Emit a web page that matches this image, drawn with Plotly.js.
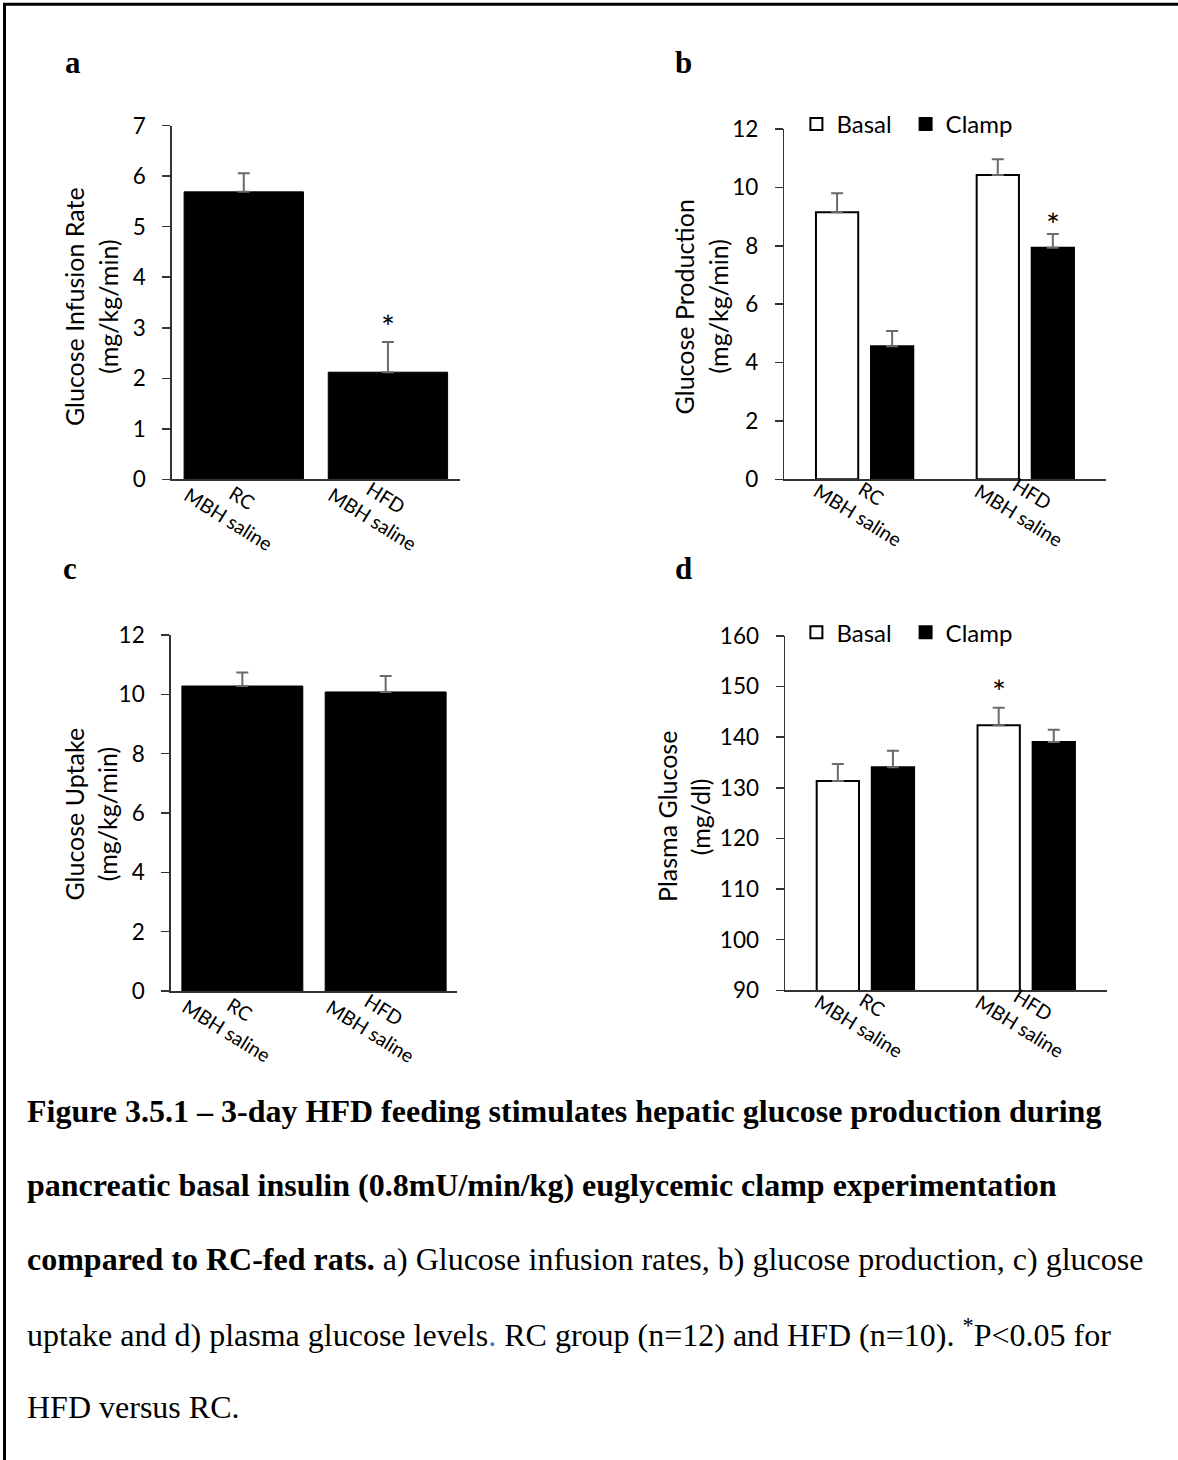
<!DOCTYPE html>
<html><head><meta charset="utf-8">
<script src="https://cdn.plot.ly/plotly-3.0.1.min.js"></script>
<style>html,body{margin:0;padding:0;background:#fff}#chart{width:1178px;height:1460px}</style>
</head><body><div id="chart"></div>
<script>
// ---------- data ----------
const groups = ['RC', 'HFD'];
const groupSub = 'MBH saline';
const seriesNames = ['Basal', 'Clamp'];
// a) glucose infusion rate (mg/kg/min)
const girMean = [5.69, 2.12];
const girErr = [0.37, 0.60];
// b) glucose production (mg/kg/min)
const egpBasal = [9.15, 10.42];
const egpBasalErr = [0.65, 0.54];
const egpClamp = [4.56, 7.93];
const egpClampErr = [0.52, 0.47];
// c) glucose uptake (mg/kg/min)
const uptakeMean = [10.28, 10.08];
const uptakeErr = [0.46, 0.54];
// d) plasma glucose (mg/dl)
const pgBasal = [131.35, 142.35];
const pgBasalErr = [3.35, 3.48];
const pgClamp = [134.05, 139.05];
const pgClampErr = [3.28, 2.45];
// axis titles and ticks
const titleA = ['Glucose Infusion Rate', '(mg/kg/min)'];
const titleB = ['Glucose Production', '(mg/kg/min)'];
const titleC = ['Glucose Uptake', '(mg/kg/min)'];
const titleD = ['Plasma Glucose', '(mg/dl)'];
const panelLetters = ['a', 'b', 'c', 'd'];
const captionLines = [
  '<b>Figure 3.5.1 \u2013 3-day HFD feeding stimulates hepatic glucose production during</b>',
  '<b>pancreatic basal insulin (0.8mU/min/kg) euglycemic clamp experimentation</b>',
  '<b>compared to RC-fed rats.</b> a) Glucose infusion rates, b) glucose production, c) glucose',
  'uptake and d) plasma glucose levels<span style="color:#4472c4">.</span> RC group (n=12) and HFD (n=10). <sup>*</sup>P&lt;0.05 for',
  'HFD versus RC.'
];

// ---------- layout helpers ----------
const W = 1178, H = 1460;
const px = v => v / W;
const py = v => 1 - v / H;
const SANS = 'Lato, "Open Sans", sans-serif';
const SERIF = '"Liberation Serif", "Times New Roman", serif';
const AX = '#333333';
const ERRC = '#6a6a6a';

function err(arr) {
  return {type: 'data', symmetric: false, array: arr, arrayminus: arr.map(() => 0),
          color: ERRC, thickness: 2, width: 6};
}
const singleW_a = 0.828, singleW_c = 0.844;
const grpW = 0.263, basalOff = -0.303, clampOff = 0.0395;

const traces = [
  {type: 'bar', x: groups, y: girMean, error_y: err(girErr), xaxis: 'x', yaxis: 'y',
   width: singleW_a, marker: {color: '#000', line: {color: '#000', width: 1}}, showlegend: false},
  {type: 'bar', name: seriesNames[0], x: groups, y: egpBasal, error_y: err(egpBasalErr), xaxis: 'x2', yaxis: 'y2',
   width: grpW, offset: basalOff, marker: {color: '#fff', line: {color: '#000', width: 2}}, legend: 'legend'},
  {type: 'bar', name: seriesNames[1], x: groups, y: egpClamp, error_y: err(egpClampErr), xaxis: 'x2', yaxis: 'y2',
   width: grpW, offset: clampOff, marker: {color: '#000', line: {color: '#000', width: 2}}, legend: 'legend'},
  {type: 'bar', x: groups, y: uptakeMean, error_y: err(uptakeErr), xaxis: 'x3', yaxis: 'y3',
   width: singleW_c, marker: {color: '#000', line: {color: '#000', width: 1}}, showlegend: false},
  {type: 'bar', name: seriesNames[0], x: groups, y: pgBasal, error_y: err(pgBasalErr), xaxis: 'x4', yaxis: 'y4',
   width: grpW, offset: basalOff, marker: {color: '#fff', line: {color: '#000', width: 2}}, legend: 'legend2'},
  {type: 'bar', name: seriesNames[1], x: groups, y: pgClamp, error_y: err(pgClampErr), xaxis: 'x4', yaxis: 'y4',
   width: grpW, offset: clampOff, marker: {color: '#000', line: {color: '#000', width: 2}}, legend: 'legend2'}
];

function xAx(x0, x1, anchor) {
  return {domain: [px(x0), px(x1)], anchor: anchor, type: 'category', range: [-0.5, 1.5],
          showline: true, linecolor: AX, linewidth: 1.5, ticks: '', showticklabels: false,
          showgrid: false, zeroline: false, fixedrange: true};
}
function yAx(y0, y1, anchor, range, dtick) {
  return {domain: [py(y1), py(y0)], anchor: anchor, range: range, dtick: dtick, tick0: range[0],
          showline: true, linecolor: AX, linewidth: 1.5, ticks: 'outside', ticklen: 8, tickwidth: 1.5,
          tickcolor: AX, showgrid: false, zeroline: false, fixedrange: true,
          tickfont: {family: SANS, size: 22.5, color: '#000'}, ticklabelstandoff: 12};
}

const annotations = [];
// panel letters
const letterPos = [[72.7, 62.8], [683.3, 62.8], [70, 568.5], [683.3, 568.5]];
panelLetters.forEach((l, i) => annotations.push({xref: 'paper', yref: 'paper', x: px(letterPos[i][0]), y: py(letterPos[i][1]),
  xanchor: 'center', yanchor: 'middle', showarrow: false, text: '<b>' + l + '</b>', font: {family: SERIF, size: 31, color: '#000'}}));
// y-axis titles (two lines each)
function yTitle(lines, xs, yc) {
  lines.forEach((t, i) => annotations.push({xref: 'paper', yref: 'paper', x: px(xs[i]), y: py(yc),
    xanchor: 'center', yanchor: 'middle', textangle: -90, showarrow: false, text: t,
    font: {family: SANS, size: 25, color: '#000'}}));
}
yTitle(titleA, [73.6, 107.3], 306.5);
yTitle(titleB, [683.6, 717.6], 306.8);
yTitle(titleC, [73.6, 107.3], 814);
yTitle(titleD, [667, 700.3], 817);
// category labels
function catLabels(xa, ya, ymin, dx, dy) {
  groups.forEach((g, i) => annotations.push({xref: xa, yref: ya, x: i, y: ymin, xshift: dx, yshift: -dy,
    xanchor: 'center', yanchor: 'middle', textangle: 32, showarrow: false, text: g + '<br>' + groupSub,
    font: {family: SANS, size: 19.5, color: '#000'}}));
}
catLabels('x', 'y', 0, -8.5, 28.5);
catLabels('x2', 'y2', 0, 0, 25);
catLabels('x3', 'y3', 0, -8.5, 28.5);
catLabels('x4', 'y4', 90, 0, 25);
// significance asterisks (HFD vs RC)
function star(xa, ya, x, y, shift) {
  annotations.push({xref: xa, yref: ya, x: x, y: y, yshift: shift, xanchor: 'center', yanchor: 'middle',
    showarrow: false, text: '*', font: {family: SANS, size: 33, color: '#000'}});
}
star('x', 'y', 1, girMean[1] + girErr[1], 16);
star('x2', 'y2', 1 + clampOff + grpW / 2, egpClamp[1] + egpClampErr[1], 10);
star('x4', 'y4', 1 + basalOff + grpW / 2, pgBasal[1] + pgBasalErr[1], 17);
// caption
const capBase = 1121.7, capStep = 74, capFs = 32;
captionLines.forEach((t, i) => annotations.push({xref: 'paper', yref: 'paper', x: px(25), y: py(capBase + i * capStep - 0.3375 * capFs),
  xanchor: 'left', yanchor: 'middle', align: 'left', showarrow: false, text: t, font: {family: SERIF, size: capFs, color: '#000'}}));

const legendCommon = {orientation: 'h', xanchor: 'left', yanchor: 'middle', bgcolor: 'rgba(0,0,0,0)', borderwidth: 0,
  font: {family: SANS, size: 24, color: '#000'}, entrywidth: 64.2, entrywidthmode: 'pixels', itemwidth: 30, tracegroupgap: 0};

const layout = {
  width: W, height: H, margin: {l: 0, r: 0, t: 0, b: 0, pad: 0},
  paper_bgcolor: '#fff', plot_bgcolor: 'rgba(0,0,0,0)', barmode: 'group',
  font: {family: SANS, color: '#000'},
  xaxis: xAx(171.7, 460, 'y'), yaxis: yAx(125.7, 479.3, 'x', [0, 7], 1),
  xaxis2: xAx(784.3, 1105.7, 'y2'), yaxis2: yAx(129, 479.3, 'x2', [0, 12], 2),
  xaxis3: xAx(170.7, 457.3, 'y3'), yaxis3: yAx(635, 991, 'x3', [0, 12], 2),
  xaxis4: xAx(785, 1106.7, 'y4'), yaxis4: yAx(636, 990.3, 'x4', [90, 160], 10),
  legend: Object.assign({x: px(796.4), y: py(124.3)}, legendCommon),
  legend2: Object.assign({x: px(796.4), y: py(632.7)}, legendCommon),
  annotations: annotations,
  shapes: [
    {type: 'line', xref: 'paper', yref: 'paper', x0: px(3), x1: 1, y0: py(4.3), y1: py(4.3), line: {color: '#000', width: 3}},
    {type: 'line', xref: 'paper', yref: 'paper', x0: px(4.5), x1: px(4.5), y0: py(3), y1: 0, line: {color: '#000', width: 3}}
  ]
};
Plotly.newPlot('chart', traces, layout, {displayModeBar: false, staticPlot: true});
</script>
</body></html>
